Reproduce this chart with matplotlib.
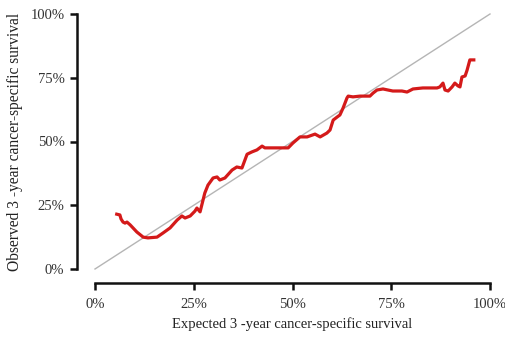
import matplotlib
matplotlib.use("Agg")
import matplotlib.pyplot as plt

expected = [5.5, 6.3, 6.6, 7.1, 7.6, 8.1, 8.9, 10.6, 12.2, 13.4, 15.7, 17.2, 19.0, 20.8,
            22.0, 22.8, 24.1, 25.3, 25.8, 26.6, 27.8, 28.6, 29.9, 30.9, 31.6, 32.9, 34.7,
            35.9, 37.2, 38.5, 39.7, 41.0, 42.3, 43.0, 48.9, 50.1, 51.9, 53.7, 55.7, 57.0,
            58.7, 59.5, 60.3, 61.3, 62.0, 62.8, 63.8, 64.1, 65.3, 67.1, 69.6, 70.4, 71.4,
            72.9, 75.4, 77.7, 79.0, 80.5, 83.0, 86.6, 87.3, 88.1, 88.6, 89.4, 90.4, 91.1,
            91.9, 92.4, 92.9, 93.7, 94.2, 94.9, 95.9]
observed = [21.5, 21.2, 19.6, 18.4, 18.0, 18.4, 17.3, 14.5, 12.5, 12.2, 12.5, 14.1, 16.1, 19.2,
            20.8, 20.0, 20.8, 22.7, 23.9, 22.4, 29.8, 32.9, 35.7, 36.1, 34.9, 35.7, 38.8,
            40.0, 39.6, 45.0, 45.9, 46.7, 48.2, 47.5, 47.5, 49.4, 51.8, 51.8, 52.9, 51.8,
            53.3, 54.5, 58.4, 59.6, 60.4, 63.1, 67.1, 67.8, 67.5, 67.8, 67.8, 69.0, 70.2,
            70.6, 69.8, 69.8, 69.4, 70.6, 71.0, 71.0, 71.4, 72.9, 70.2, 69.8, 71.4, 72.9,
            71.8, 71.4, 75.3, 75.7, 78.0, 82.0, 82.0]
ref_line = [0, 100]
ticks = [0, 25, 50, 75, 100]
tick_labels = ["0%", "25%", "50%", "75%", "100%"]

plt.rcParams['font.family'] = ['Liberation Serif', 'DejaVu Serif']

fig = plt.figure(figsize=(5.06, 3.45), dpi=100)
ax = fig.add_axes([95/506, (345-269)/345, (490-95)/506, (269-14)/345])

ax.plot(ref_line, ref_line, color='#b5b5b5', lw=1.0, clip_on=False, zorder=1)
ax.plot(expected, observed, color='#d41a1a', lw=2.3, clip_on=False, zorder=2,
        solid_joinstyle='round')

ax.set_xlim(0, 100)
ax.set_ylim(0, 100)
ax.set_xticks(ticks)
ax.set_xticklabels(tick_labels)
ax.set_yticks(ticks)
ax.set_yticklabels(tick_labels)

for s in ['top', 'right']:
    ax.spines[s].set_visible(False)
ax.spines['left'].set_position(('outward', 13))
ax.spines['bottom'].set_position(('outward', 10))
for s in ['left', 'bottom']:
    ax.spines[s].set_linewidth(1.8)
    ax.spines[s].set_color('#111111')
ax.tick_params(axis='both', length=5, width=1.8, color='#111111',
               labelsize=10.5, labelcolor='#333333')
ax.tick_params(axis='y', pad=4)
ax.tick_params(axis='x', pad=6)

ax.set_xlabel("Expected 3 -year cancer-specific survival", fontsize=10.5, color='#222222', labelpad=4)
ax.set_ylabel("Observed 3 -year cancer-specific survival", fontsize=11.2, color='#222222', labelpad=5)

fig.savefig("out.png", dpi=100)
